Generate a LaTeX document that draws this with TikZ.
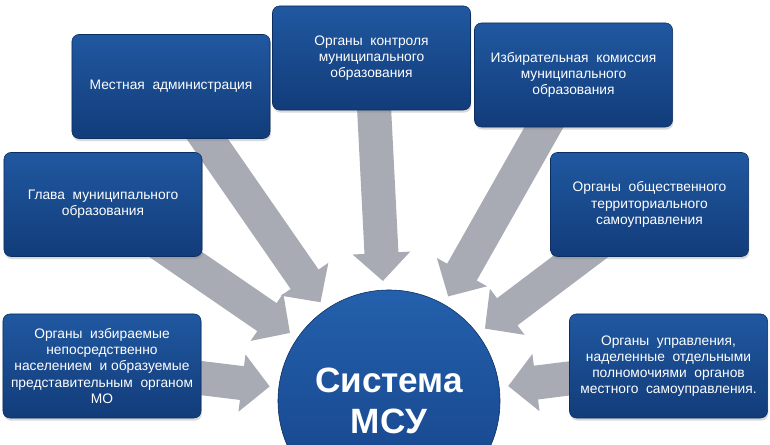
\documentclass[tikz,border=0pt]{standalone}
\usepackage{fontspec}
\setmainfont{Liberation Sans}
\usetikzlibrary{arrows.meta,shadows,backgrounds}

\definecolor{boxtop}{RGB}{32,88,160}
\definecolor{boxbot}{RGB}{18,60,122}
\definecolor{boxedge}{RGB}{12,45,95}
\definecolor{systop}{RGB}{36,96,172}
\definecolor{sysbot}{RGB}{20,66,136}
\definecolor{arrowgray}{RGB}{168,171,180}

\tikzset{
    orgbox/.style = {draw=boxedge, rounded corners=5pt,
        top color=boxtop, bottom color=boxbot,
        text=white, align=center,
        minimum width=4.95cm, minimum height=2.6cm,
        font=\fontsize{9.8}{11.5}\selectfont,
        drop shadow={opacity=0.3, shadow xshift=0.6pt, shadow yshift=-1.8pt}},
    sysnode/.style = {circle, draw=boxedge, inner sep=0pt,
        top color=systop, bottom color=sysbot,
        minimum size=5.55cm, text=white, align=center,
        font=\fontsize{25}{29}\selectfont\bfseries},
    flow/.style = {draw=arrowgray, line width=0.85cm,
        -{Triangle[length=0.7cm, width=1.4cm]},
        shorten >=0.22cm, shorten <=-1cm}
}

\begin{document}
\begin{tikzpicture}[x=0.025cm, y=0.025cm]
    \useasboundingbox (0, 0) rectangle (770, 445);
    \clip (0, 0) rectangle (770, 445);

    \node (mestn) [orgbox] at (171, 358.5) {Местная \ администрация};
    \node (kontr) [orgbox] at (371.5, 387) {Органы \ контроля\\муниципального\\образования};
    \node (izbir) [orgbox] at (573.5, 370) {Избирательная \ комиссия\\муниципального\\образования};
    \node (glava) [orgbox] at (103, 240.5) {Глава \ муниципального\\образования};
    \node (obsch) [orgbox] at (649.5, 240.5) {Органы \ общественного\\территориального\\самоуправления};
    \node (izbor) [orgbox] at (102, 79) {Органы \ избираемые\\непосредственно\\населением \ и образуемые\\представительным \ органом\\МО};
    \node (uprav) [orgbox] at (668.5, 79) {Органы \ управления,\\наделенные \ отдельными\\полномочиями \ органов\\местного \ самоуправления.};

    \node (sys) [sysnode] at (389, 44) {Система\\МСУ};

    \begin{scope}[on background layer]
        \draw[flow] (mestn) -- (sys);
        \draw[flow] (kontr) -- (sys);
        \draw[flow] (izbir) -- (sys);
        \draw[flow] (glava) -- (sys);
        \draw[flow] (obsch) -- (sys);
        \draw[flow] (izbor) -- (sys);
        \draw[flow] (uprav) -- (sys);
    \end{scope}
\end{tikzpicture}
\end{document}
